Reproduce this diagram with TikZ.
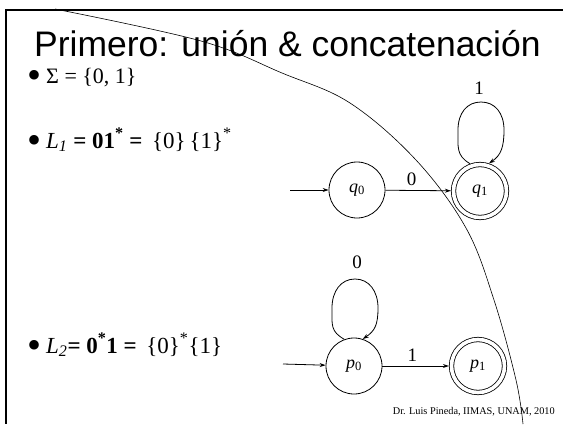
\documentclass[tikz,border=0pt]{standalone}
\usepackage{fontspec}
\setmainfont{Liberation Serif}
\newfontfamily\titlefont{Liberation Sans}
\usetikzlibrary{arrows.meta}
\newcommand{\bulletmark}{\makebox[19pt][l]{\fontsize{40}{40}\selectfont\raisebox{-5.5pt}{•}}}
\begin{document}
\begin{tikzpicture}[x=1pt,y=-1pt,
  arr/.style={line width=0.8pt,-{Stealth[length=6pt,width=4pt]}},
  state/.style={circle,draw,line width=0.8pt,minimum size=56pt,inner sep=0pt,font=\fontsize{18}{20}\selectfont},
  accept/.style={circle,draw,line width=0.8pt,double,double distance=3.6pt,minimum size=53pt,inner sep=0pt,outer sep=2.6pt,font=\fontsize{18}{20}\selectfont},
  body/.style={anchor=base west,inner sep=0pt,font=\fontsize{22}{24}\selectfont},
  bodyl/.style={anchor=base west,inner sep=0pt,font=\fontsize{23}{24}\selectfont},
  lbl/.style={font=\fontsize{19}{20}\selectfont,inner sep=0pt}]
\useasboundingbox (0,0) rectangle (563,424);
\draw[line width=2pt] (5,10) -- (563,10);
\draw[line width=2pt] (6,9) -- (6,424);
\node[anchor=base west,inner sep=0pt,font=\titlefont\fontsize{35.5}{40}\selectfont] (title) at (34,56) {Primero: unión \& concatenación};
\node[body] (sigma) at (27,83) {\bulletmark Σ = \{0, 1\}};
\node[bodyl] (l1) at (27,148) {\bulletmark\textit{L}\textsubscript{\textit{1}} \textbf{= 01}\textsuperscript{\textbf{*}} \textbf{=}\, \{0\}\,\{1\}\textsuperscript{*}};
\node[bodyl] (l2) at (27,353) {\bulletmark\textit{L}\textsubscript{\textit{2}}\textbf{= 0}\textsuperscript{\textbf{*}}\textbf{1 =}\, \{0\}\textsuperscript{*}\{1\}};
% automaton 1
\node[state] (q0) at (357,190) {\textit{q}\textsubscript{0}};
\node[accept] (q1) at (480,191) {\textit{q}\textsubscript{1}};
\coordinate (q0in) at (290,190);
\draw[arr] (q0in) -- (q0);
\draw[arr] (q0) -- node[lbl,above=4pt,pos=0.4] (lb0) {0} (q1);
\coordinate (q1l) at ([shift={(-22,-61)}]q1.center);
\coordinate (q1t) at ([shift={(1,-89)}]q1.center);
\coordinate (q1r) at ([shift={(24,-61)}]q1.center);
\draw[arr] (q1.110) .. controls +(-14,-8) and +(0,17) .. (q1l) .. controls +(0,-17) and +(-14,0) .. (q1t) .. controls +(14,0) and +(0,-17) .. (q1r) .. controls +(0,17) and +(12,-8) .. (q1.72);
\node[lbl] (lb1) at (479,88) {1};
% automaton 2
\node[state] (p0) at (354,366) {\textit{p}\textsubscript{0}};
\node[accept] (p1) at (478,366) {\textit{p}\textsubscript{1}};
\coordinate (p0in) at (283,364);
\draw[arr] (p0in) -- (p0);
\draw[arr] (p0) -- node[lbl,above=4pt,pos=0.45] (lb2) {1} (p1);
\coordinate (p0l) at ([shift={(-22,-58)}]p0.center);
\coordinate (p0t) at ([shift={(1,-87)}]p0.center);
\coordinate (p0r) at ([shift={(24,-58)}]p0.center);
\draw[arr] (p0.110) .. controls +(-14,-8) and +(0,17) .. (p0l) .. controls +(0,-17) and +(-14,0) .. (p0t) .. controls +(14,0) and +(0,-17) .. (p0r) .. controls +(0,17) and +(12,-8) .. (p0.72);
\node[lbl] (lb3) at (357,262) {0};
% big arc
\draw[line width=0.6pt] plot[smooth,tension=0.6] coordinates {(55,9) (201,41) (282,73) (350,103) (416,160) (466,228) (494,300) (516,380) (523,424)};
\node[anchor=base east,inner sep=0pt,font=\fontsize{10.3}{12}\selectfont] (foot) at (555,414) {Dr. Luis Pineda, IIMAS, UNAM, 2010};
\end{tikzpicture}
\end{document}
